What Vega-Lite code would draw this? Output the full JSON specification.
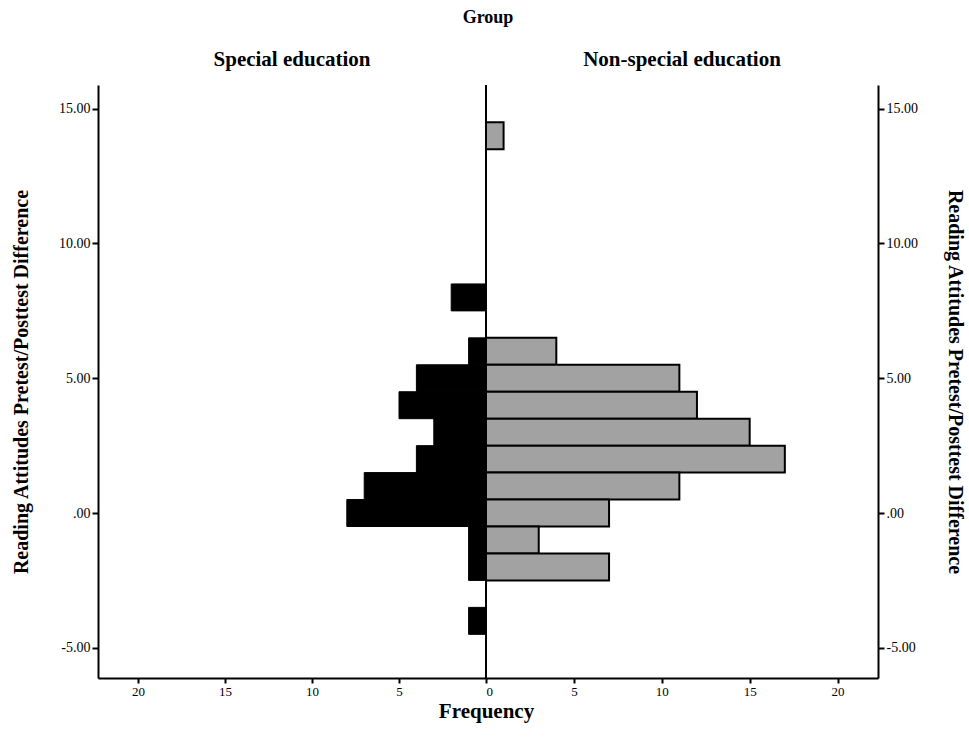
{
  "$schema": "https://vega.github.io/schema/vega-lite/v6.json",
  "background": "white",
  "padding": {"left": 11, "top": 9, "right": 5, "bottom": 5},
  "bounds": "flush",
  "title": {"text": "Group", "anchor": "middle", "font": "Liberation Serif", "fontSize": 18, "fontWeight": "bold", "color": "black", "offset": 22},
  "data": {"values": [
    {"group": "Special education", "lo": 7.5, "hi": 8.5, "count": 2},
    {"group": "Special education", "lo": 5.5, "hi": 6.5, "count": 1},
    {"group": "Special education", "lo": 4.5, "hi": 5.5, "count": 4},
    {"group": "Special education", "lo": 3.5, "hi": 4.5, "count": 5},
    {"group": "Special education", "lo": 2.5, "hi": 3.5, "count": 3},
    {"group": "Special education", "lo": 1.5, "hi": 2.5, "count": 4},
    {"group": "Special education", "lo": 0.5, "hi": 1.5, "count": 7},
    {"group": "Special education", "lo": -0.5, "hi": 0.5, "count": 8},
    {"group": "Special education", "lo": -1.5, "hi": -0.5, "count": 1},
    {"group": "Special education", "lo": -2.5, "hi": -1.5, "count": 1},
    {"group": "Special education", "lo": -4.5, "hi": -3.5, "count": 1},
    {"group": "Non-special education", "lo": 13.5, "hi": 14.5, "count": 1},
    {"group": "Non-special education", "lo": 5.5, "hi": 6.5, "count": 4},
    {"group": "Non-special education", "lo": 4.5, "hi": 5.5, "count": 11},
    {"group": "Non-special education", "lo": 3.5, "hi": 4.5, "count": 12},
    {"group": "Non-special education", "lo": 2.5, "hi": 3.5, "count": 15},
    {"group": "Non-special education", "lo": 1.5, "hi": 2.5, "count": 17},
    {"group": "Non-special education", "lo": 0.5, "hi": 1.5, "count": 11},
    {"group": "Non-special education", "lo": -0.5, "hi": 0.5, "count": 7},
    {"group": "Non-special education", "lo": -1.5, "hi": -0.5, "count": 3},
    {"group": "Non-special education", "lo": -2.5, "hi": -1.5, "count": 7}
  ]},
  "spacing": 0,
  "hconcat": [
    {
      "width": 388,
      "height": 593,
      "title": {"text": "Special education", "font": "Liberation Serif", "fontSize": 21, "fontWeight": "bold", "color": "black", "offset": 14},
      "transform": [{"filter": "datum.group === 'Special education'"}],
      "layer": [
        {
          "mark": {"type": "bar", "color": "black", "stroke": "black", "strokeWidth": 1, "cornerRadius": 0},
          "encoding": {
            "x": {"field": "count", "type": "quantitative",
              "scale": {"domain": [0, 22.3], "reverse": true, "nice": false, "zero": false},
              "axis": {"values": [5, 10, 15, 20], "title": "Frequency", "titleX": 388, "titleY": 33, "titleAlign": "center", "titleBaseline": "middle", "titleAngle": 0, "titleFontSize": 21, "labelPadding": 2, "tickSize": 5, "labelFontSize": 13}},
            "x2": {"datum": 0},
            "y": {"field": "lo", "type": "quantitative",
              "scale": {"domain": [-6.12, 15.88], "nice": false, "zero": false},
              "axis": {"orient": "left", "values": [-5, 0, 5, 10, 15], "labelExpr": "datum.value === 0 ? '.00' : replace(format(datum.value, '.2f'), '\u2212', '-')", "title": "Reading Attitudes Pretest/Posttest Difference", "titleFontSize": 20, "titlePadding": 27}},
            "y2": {"field": "hi"}
          }
        },
        {
          "mark": {"type": "rule", "color": "black", "strokeWidth": 2},
          "encoding": {"x": {"datum": 0}}
        }
      ]
    },
    {
      "width": 392,
      "height": 593,
      "title": {"text": "Non-special education", "font": "Liberation Serif", "fontSize": 21, "fontWeight": "bold", "color": "black", "offset": 14},
      "transform": [{"filter": "datum.group === 'Non-special education'"}],
      "layer": [
        {
          "mark": {"type": "bar", "color": "#a2a2a2", "stroke": "black", "strokeWidth": 2, "cornerRadius": 0},
          "encoding": {
            "x": {"field": "count", "type": "quantitative",
              "scale": {"domain": [0, 22.3], "nice": false, "zero": false},
              "axis": {"values": [0, 5, 10, 15, 20], "title": null, "labelPadding": 2, "tickSize": 5, "labelFontSize": 13}},
            "x2": {"datum": 0},
            "y": {"field": "lo", "type": "quantitative",
              "scale": {"domain": [-6.12, 15.88], "nice": false, "zero": false},
              "axis": {"orient": "right", "values": [-5, 0, 5, 10, 15], "labelExpr": "datum.value === 0 ? '.00' : replace(format(datum.value, '.2f'), '\u2212', '-')", "title": "Reading Attitudes Pretest/Posttest Difference", "titleFontSize": 20, "titlePadding": 27}},
            "y2": {"field": "hi"}
          }
        },
        {
          "mark": {"type": "rule", "color": "black", "strokeWidth": 2},
          "encoding": {"x": {"datum": 0}}
        }
      ]
    }
  ],
  "config": {
    "view": {"stroke": null},
    "axis": {
      "grid": false,
      "domainColor": "black",
      "domainWidth": 2,
      "tickColor": "black",
      "tickWidth": 2,
      "tickSize": 6,
      "labelFont": "Liberation Serif",
      "labelFontSize": 14,
      "labelColor": "black",
      "titleFont": "Liberation Serif",
      "titleFontWeight": "bold",
      "titleColor": "black"
    }
  }
}
